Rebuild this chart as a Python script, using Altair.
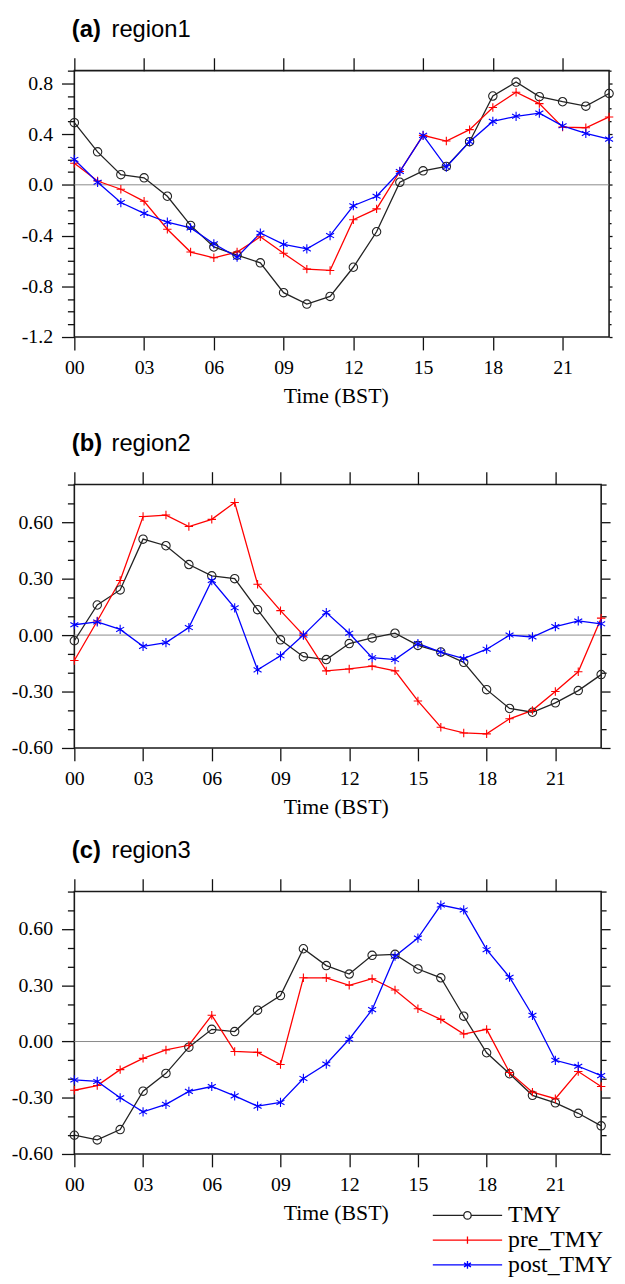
import altair as alt
import pandas as pd

hours = list(range(24))
series_names = ["TMY", "pre_TMY", "post_TMY"]
series_colors = ["#222222", "#ff0000", "#0000ff"]
x_tick_hours = [0, 3, 6, 9, 12, 15, 18, 21]

# region1
r1_tmy = [0.49, 0.26, 0.08, 0.055, -0.09, -0.32, -0.49, -0.555, -0.615, -0.85, -0.94, -0.88,
          -0.65, -0.37, 0.02, 0.11, 0.145, 0.34, 0.70, 0.81, 0.695, 0.655, 0.62, 0.72]
r1_pre = [0.17, 0.03, -0.035, -0.13, -0.35, -0.53, -0.575, -0.53, -0.41, -0.54, -0.665, -0.675,
          -0.275, -0.19, 0.105, 0.39, 0.345, 0.435, 0.61, 0.73, 0.64, 0.455, 0.45, 0.535]
r1_post = [0.20, 0.02, -0.14, -0.225, -0.295, -0.34, -0.465, -0.57, -0.38, -0.47, -0.505, -0.40,
           -0.165, -0.09, 0.105, 0.39, 0.14, 0.34, 0.50, 0.54, 0.565, 0.465, 0.405, 0.36]

# region2
r2_tmy = [-0.03, 0.16, 0.24, 0.51, 0.475, 0.375, 0.315, 0.30, 0.135, -0.025, -0.115, -0.13,
          -0.045, -0.015, 0.01, -0.055, -0.09, -0.145, -0.29, -0.39, -0.41, -0.36, -0.295, -0.21]
r2_pre = [-0.135, 0.075, 0.29, 0.63, 0.638, 0.577, 0.615, 0.705, 0.27, 0.13, 0.0, -0.19,
          -0.18, -0.165, -0.19, -0.35, -0.49, -0.52, -0.525, -0.445, -0.40, -0.30, -0.195, 0.09]
r2_post = [0.055, 0.07, 0.03, -0.06, -0.04, 0.04, 0.29, 0.145, -0.185, -0.11, 0.0, 0.12,
           0.01, -0.12, -0.13, -0.045, -0.09, -0.125, -0.075, 0.0, -0.01, 0.045, 0.075, 0.06]

# region3
r3_tmy = [-0.50, -0.525, -0.47, -0.265, -0.17, -0.03, 0.065, 0.053, 0.167, 0.245, 0.495, 0.405,
          0.36, 0.46, 0.465, 0.387, 0.34, 0.135, -0.06, -0.172, -0.287, -0.327, -0.383, -0.45]
r3_pre = [-0.26, -0.235, -0.15, -0.09, -0.045, -0.02, 0.14, -0.053, -0.058, -0.123, 0.34, 0.34,
          0.30, 0.335, 0.275, 0.175, 0.118, 0.04, 0.065, -0.165, -0.27, -0.305, -0.16, -0.24]
r3_post = [-0.205, -0.213, -0.30, -0.375, -0.335, -0.266, -0.24, -0.29, -0.345, -0.325, -0.197, -0.12,
           0.012, 0.17, 0.455, 0.552, 0.728, 0.702, 0.49, 0.343, 0.14, -0.10, -0.132, -0.182]

marker_paths = [
    "M1,0A1,1 0 1,1 -1,0A1,1 0 1,1 1,0Z",
    "M-1,0L1,0M0,-1L0,1",
    "M0,-1.1L0,1.1M-0.95,-0.55L0.95,0.55M-0.95,0.55L0.95,-0.55",
]
legend_paths = [
    "M-1,0L5.25,0M6.75,0L13,0M6.75,0A0.75,0.75 0 1,1 5.25,0A0.75,0.75 0 1,1 6.75,0",
    "M-1,0L13,0M6,-0.75L6,0.75",
    "M-1,0L13,0M6,-0.8L6,0.8M5.3,-0.4L6.7,0.4M5.3,0.4L6.7,-0.4",
]

FONT_SERIF = "Liberation Serif"
FONT_SANS = "Liberation Sans"


def long_df(tmy, pre, post):
    rows = []
    for name, vals in zip(series_names, [tmy, pre, post]):
        for h, v in zip(hours, vals):
            rows.append({"hour": h, "value": v, "series": name})
    return pd.DataFrame(rows)


def panel(df, letter, region, w, h, ydom, yticks, mod, fmt, rmaj, rmin, with_legend=False):
    xs = alt.Scale(domain=[0, 23], nice=False, zero=False)
    ys = alt.Scale(domain=ydom, nice=False, zero=False)
    cs = alt.Scale(domain=series_names, range=series_colors)
    major = f"abs(round(datum.value*10)) % {mod} == 0"
    label_expr = f"{major} ? replace(format(datum.value, '{fmt}'), '\u2212', '-') : ''"

    left_axis = alt.Axis(orient="left", values=yticks, labelExpr=label_expr,
                         labelFont=FONT_SERIF, labelFontSize=20, labelColor="black",
                         tickSize={"condition": {"test": major, "value": 13}, "value": 7},
                         labelPadding=9, labelOverlap=False,
                         title=letter, titleFont=FONT_SANS, titleFontSize=24, titleFontWeight="bold",
                         titleColor="black", titleAngle=0, titleX=-3, titleY=-34,
                         titleAlign="left", titleBaseline="alphabetic")
    bottom_axis = alt.Axis(orient="bottom", values=x_tick_hours, format="02d",
                           labelFont=FONT_SERIF, labelFontSize=20, labelColor="black",
                           tickSize=13, labelPadding=8, labelFlush=False, labelOverlap=False,
                           title="Time (BST)", titleFont=FONT_SERIF, titleFontSize=22,
                           titleFontWeight="normal", titleColor="black",
                           titlePadding=8.5, titleX=264, titleAlign="center")
    top_axis = alt.Axis(orient="top", values=x_tick_hours, labels=False, tickSize=13,
                        title=region, titleFont=FONT_SANS, titleFontSize=24, titleFontWeight="normal",
                        titleColor="black", titleAngle=0, titleX=37, titleY=-34,
                        titleAlign="left", titleBaseline="alphabetic")
    right_axis = alt.Axis(orient="right", values=yticks, labels=False, title=None,
                          tickSize={"condition": {"test": major, "value": rmaj}, "value": rmin})

    zero = alt.Chart(pd.DataFrame({"level": [0.0]})).mark_rule(color="#8a8a8a", strokeWidth=1).encode(
        y=alt.Y("level:Q", scale=ys, axis=None)
    )
    lines = alt.Chart(df).mark_line(strokeWidth=1.3).encode(
        x=alt.X("hour:Q", scale=xs, axis=bottom_axis),
        y=alt.Y("value:Q", scale=ys, axis=left_axis),
        color=alt.Color("series:N", scale=cs, legend=None),
    )
    points = alt.Chart(df).mark_point(filled=False, size=72, strokeWidth=1.1, opacity=1).encode(
        x=alt.X("hour:Q", scale=xs, axis=top_axis),
        y=alt.Y("value:Q", scale=ys, axis=right_axis),
        color=alt.Color("series:N", scale=cs, legend=None),
        shape=alt.Shape("series:N", scale=alt.Scale(domain=series_names, range=marker_paths), legend=None),
    )
    layers = [zero, lines, points]
    if with_legend:
        leg = alt.Legend(title=None, orient="none", legendX=355, legendY=315, direction="vertical",
                         labelFont=FONT_SERIF, labelFontSize=24, labelColor="black", labelOffset=59,
                         symbolStrokeWidth=1.3, symbolSize=100, padding=0, rowPadding=1, labelLimit=300)
        legend_layer = alt.Chart(df).transform_filter("false").mark_point(
            filled=False, size=100, strokeWidth=1.3, opacity=1
        ).encode(
            x=alt.X("hour:Q", scale=xs, axis=None),
            y=alt.Y("value:Q", scale=ys, axis=None),
            color=alt.Color("series:N", scale=cs, legend=leg),
            shape=alt.Shape("series:N", scale=alt.Scale(domain=series_names, range=legend_paths), legend=leg),
        )
        layers.append(legend_layer)

    chart = alt.layer(*layers).resolve_axis(x="independent", y="independent")
    if with_legend:
        chart = chart.resolve_scale(color="independent", shape="independent")
    return chart.properties(width=w, height=h)


ticks_a = [round(-1.2 + 0.1 * i, 1) for i in range(22)]
ticks_bc = [round(-0.6 + 0.1 * i, 1) for i in range(15)]

pa = panel(long_df(r1_tmy, r1_pre, r1_post), "(a)", "region1", 540, 269, [-1.2, 0.9], ticks_a, 4, ".1f", 3, 2)
pb = panel(long_df(r2_tmy, r2_pre, r2_post), "(b)", "region2", 532, 266, [-0.6, 0.8], ticks_bc, 3, ".2f", 9, 5)
pc = panel(long_df(r3_tmy, r3_pre, r3_post), "(c)", "region3", 532, 265, [-0.6, 0.8], ticks_bc, 3, ".2f", 9, 5,
           with_legend=True)

chart = alt.vconcat(
    alt.vconcat(pa, pb, spacing=23), pc, spacing=19,
    padding={"left": 2, "top": 3, "right": 0, "bottom": -3},
).configure_view(
    stroke="#1a1a1a", strokeWidth=1.6
).configure_axis(
    grid=False, domain=False, tickColor="#111111", tickWidth=1.3,
)

chart.save("out.html", embed_options={"renderer": "svg", "actions": False})
